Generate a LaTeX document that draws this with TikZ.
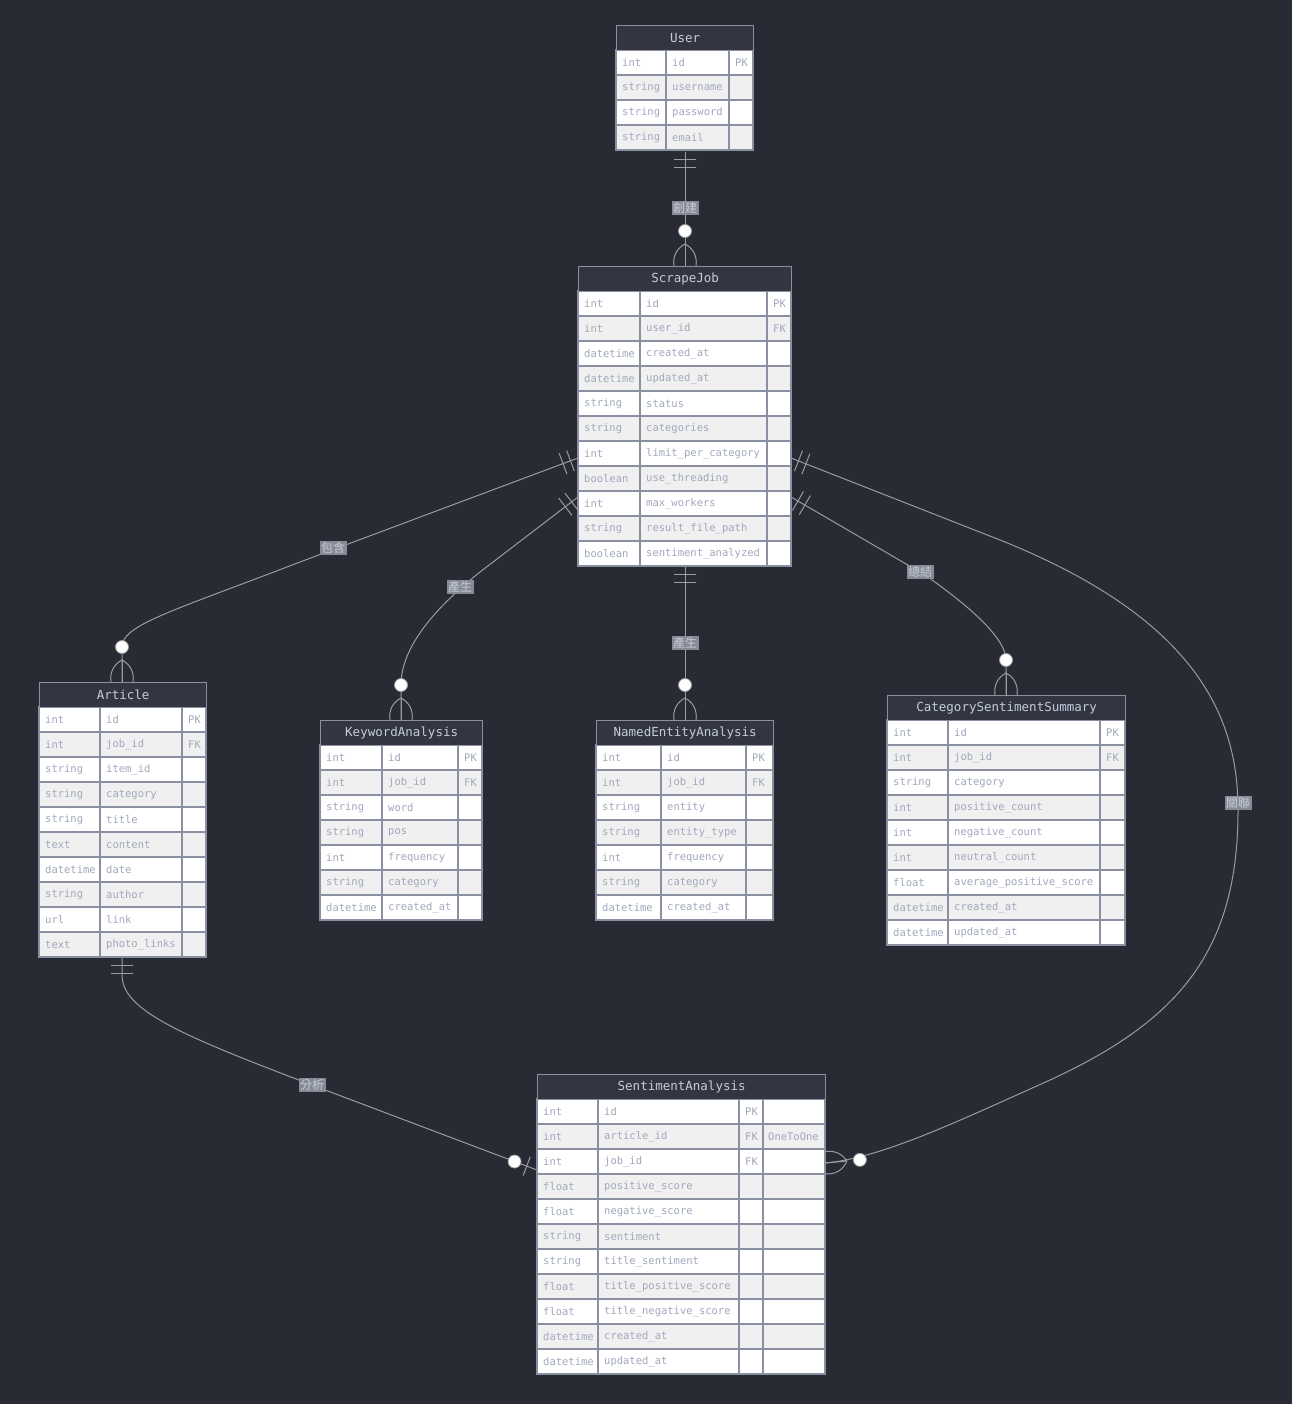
\documentclass[tikz,border=0pt]{standalone}
\usepackage{fontspec}
\setmonofont{DejaVu Sans Mono}
\newfontfamily\cjk{Noto Sans CJK TC}
\usetikzlibrary{calc}

\definecolor{bgdark}{HTML}{282B33}
\definecolor{headfill}{HTML}{333640}
\definecolor{headtext}{HTML}{C3CCDD}
\definecolor{cellborder}{HTML}{8A90A2}
\definecolor{celltext}{HTML}{A0A8BC}
\definecolor{rowgray}{HTML}{F0F0F0}
\definecolor{linegray}{HTML}{9A9CA2}
\definecolor{labelfill}{HTML}{888B95}
\definecolor{labeltext}{HTML}{C4CCDC}

\tikzset{
  erline/.style={draw=linegray, line width=1pt},
  cellbox/.style={draw=cellborder, line width=1.3pt},
  celltext/.style={anchor=west, inner sep=0pt, text=celltext,
    font=\ttfamily\fontsize{10.5}{12}\selectfont},
  headbox/.style={draw=cellborder, line width=1.3pt, fill=headfill, text=headtext,
    font=\ttfamily\fontsize{12.5}{14}\selectfont, inner sep=0pt,
    minimum height=25pt, anchor=north west},
  rellabel/.style={fill=labelfill, text=labeltext, inner sep=1.5pt,
    font=\cjk\fontsize{12}{13}\selectfont},
  erdot/.style={circle, fill=white, draw=linegray, line width=0.8pt,
    inner sep=0pt, minimum size=13pt},
}

% entity table: name, left, top, column widths (4), title, rows type/name/key/comment
\newcommand\erdtable[9]{%
  \pgfmathsetmacro\tXa{#2}%
  \pgfmathsetmacro\tXb{#2+#4}%
  \pgfmathsetmacro\tXc{#2+#4+#5}%
  \pgfmathsetmacro\tXd{#2+#4+#5+#6}%
  \pgfmathsetmacro\tXe{#2+#4+#5+#6+#7}%
  \pgfmathsetmacro\tW{#4+#5+#6+#7}%
  \foreach \ty/\nm/\ky/\cm [count=\i] in {#9}{%
    \pgfmathsetmacro\tYa{#3+25*\i}%
    \pgfmathsetmacro\tYb{#3+25*\i+25}%
    \pgfmathsetmacro\tYm{#3+25*\i+12.5}%
    \ifodd\i\def\rowcol{white}\else\def\rowcol{rowgray}\fi
    \filldraw[cellbox, fill=\rowcol] (\tXa,\tYa) rectangle (\tXb,\tYb);
    \filldraw[cellbox, fill=\rowcol] (\tXb,\tYa) rectangle (\tXc,\tYb);
    \filldraw[cellbox, fill=\rowcol] (\tXc,\tYa) rectangle (\tXd,\tYb);
    \ifdim #7pt>0pt
      \filldraw[cellbox, fill=\rowcol] (\tXd,\tYa) rectangle (\tXe,\tYb);
      \node[celltext] at (\tXd+5,\tYm) {\cm};
    \fi
    \node[celltext] at (\tXa+6,\tYm) {\ty};
    \node[celltext] at (\tXb+6,\tYm) {\nm};
    \node[celltext] at (\tXc+6,\tYm) {\ky};
  }
  \node[headbox, minimum width=\tW pt] (#1) at (\tXa,#3) {#8};
}

% two bars: exactly one
\newcommand\onlyone[2]{%
  \draw[erline] ($(#1)!8pt!(#2)!11pt!90:(#2)$) -- ($(#1)!8pt!(#2)!11pt!-90:(#2)$);
  \draw[erline] ($(#1)!16pt!(#2)!11pt!90:(#2)$) -- ($(#1)!16pt!(#2)!11pt!-90:(#2)$);
}
% circle and crow's foot: zero or more
\newcommand\zeromany[2]{%
  \coordinate (cf-a) at ($(#1)!22pt!(#2)$);
  \coordinate (cf-l) at ($(#1)!11pt!90:(#2)$);
  \coordinate (cf-r) at ($(#1)!11pt!-90:(#2)$);
  \draw[erline] (cf-l) to[bend left=35] (cf-a) to[bend left=35] (cf-r);
  \draw[erline] (cf-a) -- (#1);
  \node[erdot] at ($(#1)!35pt!(#2)$) {};
}
% circle and one bar: zero or one
\newcommand\zeroone[2]{%
  \draw[erline] ($(#1)!11pt!(#2)!10pt!90:(#2)$) -- ($(#1)!11pt!(#2)!10pt!-90:(#2)$);
  \node[erdot] at ($(#1)!24pt!(#2)$) {};
}

\begin{document}
\begin{tikzpicture}[x=1pt, y=-1pt]
\fill[bgdark] (0,0) rectangle (1292,1404);
\useasboundingbox (0,0) rectangle (1292,1404);

% attachment points on the tables
\coordinate (u-b)  at (685,152);
\coordinate (sj-t) at (685,266);
\coordinate (sj-b) at (685,566);
\coordinate (sj-l1) at (578,458);
\coordinate (sj-l2) at (578,497);
\coordinate (sj-r1) at (791,458);
\coordinate (sj-r2) at (791,497);
\coordinate (ar-t) at (122,682);
\coordinate (ar-b) at (122,957);
\coordinate (ka-t) at (401,720);
\coordinate (ne-t) at (685,720);
\coordinate (cs-t) at (1006,695);
\coordinate (sa-l) at (537,1170);
\coordinate (sa-r) at (825,1163);

% relationship lines
\draw[erline] (u-b) -- (sj-t);
\draw[erline] (sj-l1) -- (300,562) .. controls (170,612) and (122,625) .. (122,647) -- (ar-t);
\draw[erline] (sj-l2) -- (480,572) .. controls (430,612) and (401,650) .. (401,685) -- (ka-t);
\draw[erline] (sj-b) -- (ne-t);
\draw[erline] (sj-r2) -- (925,575) .. controls (975,610) and (1006,640) .. (1006,660) -- (cs-t);
\draw[erline] (sj-r1) -- (1000,540) .. controls (1200,620) and (1238,720) .. (1238,810)
  .. controls (1238,950) and (1180,1020) .. (1050,1080)
  .. controls (950,1125) and (880,1158) .. (sa-r);
\draw[erline] (ar-b) -- (122,975) .. controls (122,1010) and (180,1035) .. (312,1085) -- (sa-l);

% tables
\erdtable{user}{616}{25}{50}{63}{24}{0}{User}{%
  int/id/PK/, string/username//, string/password//, string/email//}
\erdtable{scrapejob}{578}{266}{62}{127}{24}{0}{ScrapeJob}{%
  int/id/PK/, int/user\_id/FK/, datetime/created\_at//, datetime/updated\_at//,
  string/status//, string/categories//, int/limit\_per\_category//,
  boolean/use\_threading//, int/max\_workers//, string/result\_file\_path//,
  boolean/sentiment\_analyzed//}
\erdtable{article}{39}{682}{61}{82}{24}{0}{Article}{%
  int/id/PK/, int/job\_id/FK/, string/item\_id//, string/category//, string/title//,
  text/content//, datetime/date//, string/author//, url/link//, text/photo\_links//}
\erdtable{keyword}{320}{720}{62}{76}{24}{0}{KeywordAnalysis}{%
  int/id/PK/, int/job\_id/FK/, string/word//, string/pos//, int/frequency//,
  string/category//, datetime/created\_at//}
\erdtable{entity}{596}{720}{65}{85}{27}{0}{NamedEntityAnalysis}{%
  int/id/PK/, int/job\_id/FK/, string/entity//, string/entity\_type//, int/frequency//,
  string/category//, datetime/created\_at//}
\erdtable{catsum}{887}{695}{61}{152}{25}{0}{CategorySentimentSummary}{%
  int/id/PK/, int/job\_id/FK/, string/category//, int/positive\_count//,
  int/negative\_count//, int/neutral\_count//, float/average\_positive\_score//,
  datetime/created\_at//, datetime/updated\_at//}
\erdtable{sentiment}{537}{1074}{61}{141}{24}{62}{SentimentAnalysis}{%
  int/id/PK/, int/article\_id/FK/OneToOne, int/job\_id/FK/, float/positive\_score//,
  float/negative\_score//, string/sentiment//, string/title\_sentiment//,
  float/title\_positive\_score//, float/title\_negative\_score//,
  datetime/created\_at//, datetime/updated\_at//}

% cardinality markers
\onlyone{u-b}{sj-t}
\zeromany{sj-t}{u-b}
\onlyone{sj-l1}{300,562}
\zeromany{ar-t}{122,600}
\onlyone{sj-l2}{480,572}
\zeromany{ka-t}{401,650}
\onlyone{sj-b}{ne-t}
\zeromany{ne-t}{sj-b}
\onlyone{sj-r2}{925,575}
\zeromany{cs-t}{1006,640}
\onlyone{sj-r1}{1000,540}
\zeromany{sa-r}{880,1158}
\onlyone{ar-b}{122,1000}
\zeroone{sa-l}{312,1085}

% relationship labels
\node[rellabel] (l-create) at (685,208) {創建};
\node[rellabel] (l-contain) at (333,548) {包含};
\node[rellabel] (l-gen1) at (460,587) {產生};
\node[rellabel] (l-gen2) at (685,643) {產生};
\node[rellabel] (l-summary) at (920,572) {總結};
\node[rellabel] (l-relate) at (1238,803) {關聯};
\node[rellabel] (l-analyse) at (312,1085) {分析};
\end{tikzpicture}
\end{document}
